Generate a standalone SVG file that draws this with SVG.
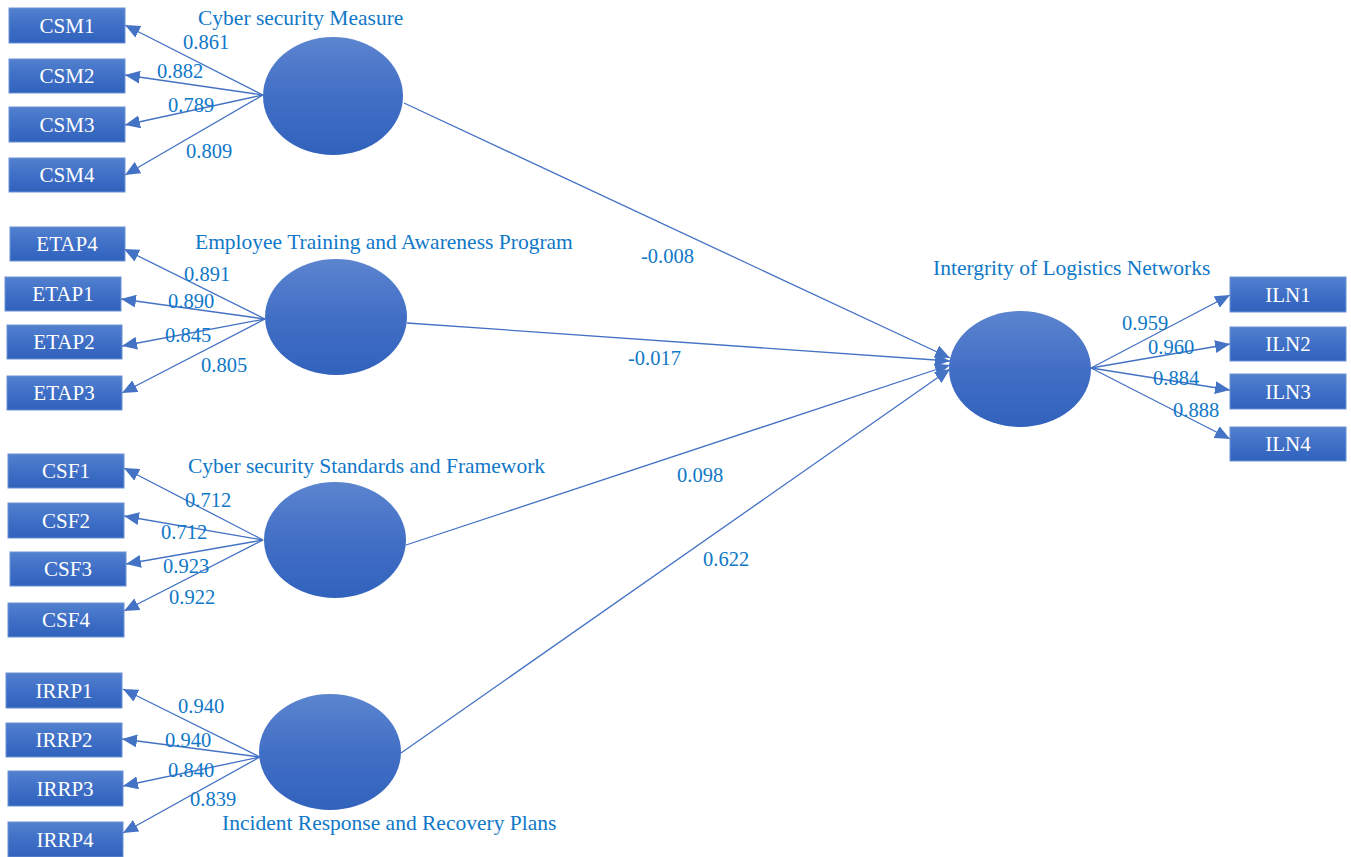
<svg xmlns="http://www.w3.org/2000/svg" width="1351" height="857" viewBox="0 0 1351 857">
<defs>
<linearGradient id="gBox" x1="0" y1="0" x2="0" y2="1">
<stop offset="0" stop-color="#5281cf"/>
<stop offset="0.5" stop-color="#3f6fc6"/>
<stop offset="1" stop-color="#3062bd"/>
</linearGradient>
<linearGradient id="gEll" x1="0" y1="0" x2="0" y2="1">
<stop offset="0" stop-color="#5c85cf"/>
<stop offset="0.5" stop-color="#426fc6"/>
<stop offset="1" stop-color="#3162bc"/>
</linearGradient>
<marker id="arr" viewBox="0 0 15 13" markerWidth="15" markerHeight="13" refX="15" refY="6.5" orient="auto" markerUnits="userSpaceOnUse">
<path d="M0,0 L15,6.5 L0,13 z" fill="#4472c4"/>
</marker>
<style>
.box{fill:url(#gBox);stroke:#6d92d6;stroke-width:1}
.ell{fill:url(#gEll);stroke:none}
.bt{font-family:"Liberation Serif","Times New Roman",serif;font-size:21px;fill:#ffffff;text-anchor:middle}
.lb{font-family:"Liberation Serif","Times New Roman",serif;font-size:20.5px;fill:#0f78c8}
.tt{font-family:"Liberation Serif","Times New Roman",serif;font-size:21.5px;fill:#0f78c8}
.cn{stroke:#4472c4;stroke-width:1.3;fill:none;marker-end:url(#arr)}
</style>
</defs>
<rect width="1351" height="857" fill="#ffffff"/>

<g id="connectors">
<line class="cn" x1="263" y1="95" x2="125" y2="25"/>
<line class="cn" x1="263" y1="95" x2="125" y2="75"/>
<line class="cn" x1="263" y1="95" x2="125" y2="125"/>
<line class="cn" x1="263" y1="95" x2="125" y2="175"/>

<line class="cn" x1="265" y1="319" x2="124" y2="249"/>
<line class="cn" x1="265" y1="319" x2="121" y2="299"/>
<line class="cn" x1="265" y1="319" x2="122" y2="346"/>
<line class="cn" x1="265" y1="319" x2="122" y2="393"/>

<line class="cn" x1="263" y1="540" x2="124" y2="468"/>
<line class="cn" x1="263" y1="540" x2="124" y2="516"/>
<line class="cn" x1="263" y1="540" x2="126" y2="564"/>
<line class="cn" x1="263" y1="540" x2="124" y2="611"/>

<line class="cn" x1="260" y1="757" x2="123" y2="689"/>
<line class="cn" x1="260" y1="757" x2="122" y2="739"/>
<line class="cn" x1="260" y1="757" x2="123" y2="786"/>
<line class="cn" x1="260" y1="757" x2="123" y2="833"/>

<line class="cn" x1="1091" y1="368" x2="1230" y2="295"/>
<line class="cn" x1="1091" y1="368" x2="1230" y2="344"/>
<line class="cn" x1="1091" y1="368" x2="1230" y2="390"/>
<line class="cn" x1="1091" y1="368" x2="1230" y2="439"/>

<line class="cn" x1="404" y1="103" x2="950" y2="358"/>
<line class="cn" x1="407" y1="323" x2="950" y2="361"/>
<line class="cn" x1="406" y1="545" x2="950" y2="365"/>
<line class="cn" x1="401" y1="753" x2="950" y2="369"/>

<text class="lb" x="183" y="49">0.861</text>
<text class="lb" x="157" y="78">0.882</text>
<text class="lb" x="168" y="112">0.789</text>
<text class="lb" x="186" y="158">0.809</text>

<text class="lb" x="184" y="281">0.891</text>
<text class="lb" x="168" y="308">0.890</text>
<text class="lb" x="165" y="342">0.845</text>
<text class="lb" x="201" y="372">0.805</text>

<text class="lb" x="185" y="507">0.712</text>
<text class="lb" x="161" y="539">0.712</text>
<text class="lb" x="163" y="573">0.923</text>
<text class="lb" x="169" y="604">0.922</text>

<text class="lb" x="178" y="713">0.940</text>
<text class="lb" x="165" y="747">0.940</text>
<text class="lb" x="168" y="777">0.840</text>
<text class="lb" x="190" y="806">0.839</text>

<text class="lb" x="1122" y="330">0.959</text>
<text class="lb" x="1148" y="354">0.960</text>
<text class="lb" x="1153" y="385">0.884</text>
<text class="lb" x="1173" y="417">0.888</text>

<text class="lb" x="641" y="263">-0.008</text>
<text class="lb" x="628" y="365">-0.017</text>
<text class="lb" x="677" y="482">0.098</text>
<text class="lb" x="703" y="566">0.622</text>
</g>

<g id="CSM">
<ellipse class="ell" cx="333" cy="96" rx="70" ry="59"/>
<text class="tt" x="198" y="25">Cyber security Measure</text>
</g>
<g id="CSM1"><rect class="box" x="9" y="8" width="116" height="35"/><text class="bt" x="67" y="33">CSM1</text></g>
<g id="CSM2"><rect class="box" x="9" y="59" width="116" height="34"/><text class="bt" x="67" y="83">CSM2</text></g>
<g id="CSM3"><rect class="box" x="9" y="107" width="116" height="35"/><text class="bt" x="67" y="132">CSM3</text></g>
<g id="CSM4"><rect class="box" x="9" y="158" width="116" height="34"/><text class="bt" x="67" y="182">CSM4</text></g>

<g id="ETAP">
<ellipse class="ell" cx="336" cy="317" rx="71" ry="58"/>
<text class="tt" x="195" y="249">Employee Training and Awareness Program</text>
</g>
<g id="ETAP4"><rect class="box" x="10" y="227" width="115" height="34"/><text class="bt" x="67" y="251">ETAP4</text></g>
<g id="ETAP1"><rect class="box" x="5" y="277" width="116" height="34"/><text class="bt" x="63" y="301">ETAP1</text></g>
<g id="ETAP2"><rect class="box" x="7" y="325" width="115" height="34"/><text class="bt" x="64" y="349">ETAP2</text></g>
<g id="ETAP3"><rect class="box" x="7" y="376" width="115" height="34"/><text class="bt" x="64" y="400">ETAP3</text></g>

<g id="CSF">
<ellipse class="ell" cx="335" cy="540" rx="71" ry="58"/>
<text class="tt" x="188" y="473">Cyber security Standards and Framework</text>
</g>
<g id="CSF1"><rect class="box" x="8" y="454" width="116" height="34"/><text class="bt" x="66" y="478">CSF1</text></g>
<g id="CSF2"><rect class="box" x="8" y="503" width="116" height="35"/><text class="bt" x="66" y="528">CSF2</text></g>
<g id="CSF3"><rect class="box" x="10" y="552" width="116" height="34"/><text class="bt" x="68" y="576">CSF3</text></g>
<g id="CSF4"><rect class="box" x="8" y="603" width="116" height="34"/><text class="bt" x="66" y="627">CSF4</text></g>

<g id="IRRP">
<ellipse class="ell" cx="330" cy="752" rx="71" ry="58"/>
<text class="tt" x="222" y="830">Incident Response and Recovery Plans</text>
</g>
<g id="IRRP1"><rect class="box" x="6" y="673" width="116" height="35"/><text class="bt" x="64" y="698">IRRP1</text></g>
<g id="IRRP2"><rect class="box" x="6" y="723" width="116" height="34"/><text class="bt" x="64" y="747">IRRP2</text></g>
<g id="IRRP3"><rect class="box" x="8" y="771" width="115" height="35"/><text class="bt" x="65" y="796">IRRP3</text></g>
<g id="IRRP4"><rect class="box" x="8" y="822" width="115" height="35"/><text class="bt" x="65" y="847">IRRP4</text></g>

<g id="ILN">
<ellipse class="ell" cx="1020" cy="369" rx="71" ry="58"/>
<text class="tt" x="933" y="275">Intergrity of Logistics Networks</text>
</g>
<g id="ILN1"><rect class="box" x="1230" y="277" width="116" height="35"/><text class="bt" x="1288" y="302">ILN1</text></g>
<g id="ILN2"><rect class="box" x="1230" y="327" width="116" height="34"/><text class="bt" x="1288" y="351">ILN2</text></g>
<g id="ILN3"><rect class="box" x="1230" y="374" width="116" height="35"/><text class="bt" x="1288" y="399">ILN3</text></g>
<g id="ILN4"><rect class="box" x="1230" y="427" width="116" height="34"/><text class="bt" x="1288" y="451">ILN4</text></g>
</svg>
